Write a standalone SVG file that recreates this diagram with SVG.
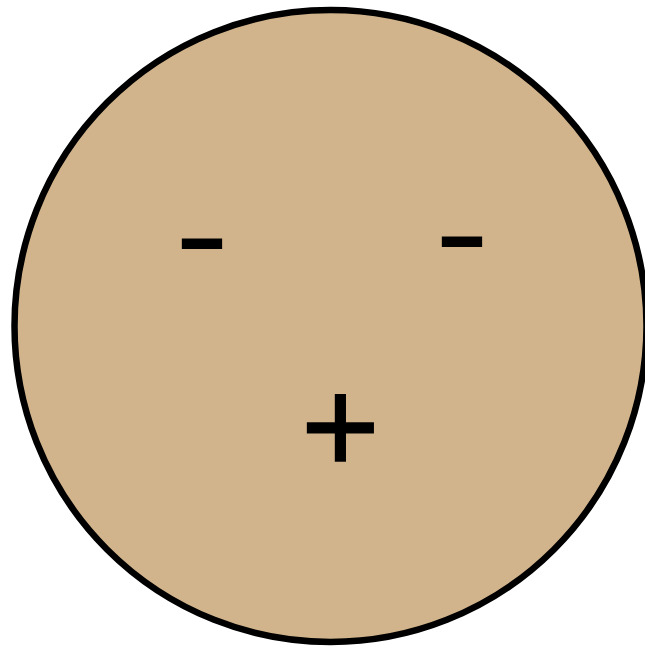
<svg xmlns="http://www.w3.org/2000/svg" width="645" height="646" viewBox="0 0 645 646">
<style>
.sign{font-family:"Liberation Sans",Arial,sans-serif;fill:#000;text-anchor:middle}
.plus{stroke:#000;stroke-width:1.5}
</style>
<rect width="645" height="646" fill="#fff"/>
<g id="ball">
<circle cx="330.5" cy="326" r="316" fill="#D2B48C" stroke="#000" stroke-width="6.5"/>
</g>
<g id="minus-left"><text class="sign" transform="translate(202,279.3) scale(1,0.815)" font-size="165">-</text></g>
<g id="minus-right"><text class="sign" transform="translate(462,277.3) scale(1,0.815)" font-size="165">-</text></g>
<g id="plus"><text class="sign plus" x="340.5" y="472.7" font-size="135">+</text></g>
</svg>
